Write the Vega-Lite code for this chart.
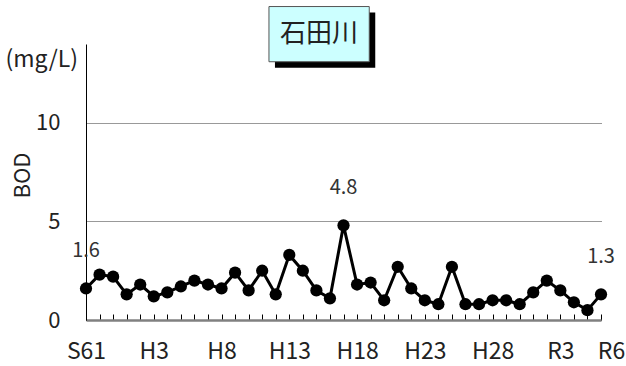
{
  "$schema": "https://vega.github.io/schema/vega-lite/v6.json",
  "autosize": {"type": "none"},
  "padding": {"left": 86, "top": 44, "right": 25, "bottom": 46},
  "width": 515,
  "height": 276,
  "background": "white",
  "config": {"view": {"stroke": null}, "font": "Noto Sans CJK JP"},
  "datasets": {
    "bod": [
      {"year": 1986, "bod": 1.6}, {"year": 1987, "bod": 2.3}, {"year": 1988, "bod": 2.2},
      {"year": 1989, "bod": 1.3}, {"year": 1990, "bod": 1.8}, {"year": 1991, "bod": 1.2},
      {"year": 1992, "bod": 1.4}, {"year": 1993, "bod": 1.7}, {"year": 1994, "bod": 2.0},
      {"year": 1995, "bod": 1.8}, {"year": 1996, "bod": 1.6}, {"year": 1997, "bod": 2.4},
      {"year": 1998, "bod": 1.5}, {"year": 1999, "bod": 2.5}, {"year": 2000, "bod": 1.3},
      {"year": 2001, "bod": 3.3}, {"year": 2002, "bod": 2.5}, {"year": 2003, "bod": 1.5},
      {"year": 2004, "bod": 1.1}, {"year": 2005, "bod": 4.8}, {"year": 2006, "bod": 1.8},
      {"year": 2007, "bod": 1.9}, {"year": 2008, "bod": 1.0}, {"year": 2009, "bod": 2.7},
      {"year": 2010, "bod": 1.6}, {"year": 2011, "bod": 1.0}, {"year": 2012, "bod": 0.8},
      {"year": 2013, "bod": 2.7}, {"year": 2014, "bod": 0.8}, {"year": 2015, "bod": 0.8},
      {"year": 2016, "bod": 1.0}, {"year": 2017, "bod": 1.0}, {"year": 2018, "bod": 0.8},
      {"year": 2019, "bod": 1.4}, {"year": 2020, "bod": 2.0}, {"year": 2021, "bod": 1.5},
      {"year": 2022, "bod": 0.9}, {"year": 2023, "bod": 0.5}, {"year": 2024, "bod": 1.3}
    ],
    "titlebox": [
      {"x1": 1999.5, "x2": 2006.9, "y1": 13.1, "y2": 15.9, "name": "石田川", "xc": 2003.2, "yc": 14.5}
    ]
  },
  "layer": [
    {
      "data": {"name": "bod"},
      "mark": {"type": "line", "color": "black", "strokeWidth": 3},
      "encoding": {
        "x": {
          "field": "year", "type": "quantitative",
          "scale": {"domain": [1986, 2024], "nice": false, "zero": false},
          "axis": {
            "title": null,
            "values": [1986,1987,1988,1989,1990,1991,1992,1993,1994,1995,1996,1997,1998,1999,2000,2001,2002,2003,2004,2005,2006,2007,2008,2009,2010,2011,2012,2013,2014,2015,2016,2017,2018,2019,2020,2021,2022,2023,2024],
            "tickCount": 100,
            "labelExpr": "datum.value==1986?'S61':datum.value==2024?'R6':datum.value==2021?'R3':(datum.value<2019 && (datum.value-1986)%5==0)?'H'+(datum.value-1988):''",
            "labelFontSize": 23,
            "labelColor": "#222222",
            "labelPadding": 26,
            "labelFlush": false,
            "labelOverlap": false,
            "labelOffset": {"condition": {"test": "datum.value == 2024", "value": 10}, "value": 0},
            "tickSize": -6,
            "tickColor": "black",
            "tickWidth": 1,
            "domainColor": "#808080",
            "domainWidth": 2.5,
            "grid": false
          }
        },
        "y": {
          "field": "bod", "type": "quantitative",
          "scale": {"domain": [0, 14], "nice": false},
          "axis": {
            "title": "BOD",
            "titleFontSize": 22,
            "titleFontWeight": "normal",
            "titleColor": "#222222",
            "titleX": -64,
            "titleY": 131,
            "titleBaseline": "middle",
            "values": [0, 5, 10],
            "labelFontSize": 22,
            "labelColor": "#222222",
            "labelPadding": 26,
            "ticks": false,
            "tickSize": 0,
            "domainColor": "black",
            "domainWidth": 1,
            "grid": true,
            "gridColor": "#333333",
            "gridDash": [1, 1],
            "gridWidth": 1
          }
        }
      }
    },
    {
      "data": {"name": "bod"},
      "mark": {"type": "circle", "color": "black", "size": 150, "opacity": 1},
      "encoding": {
        "x": {"field": "year", "type": "quantitative"},
        "y": {"field": "bod", "type": "quantitative"}
      }
    },
    {
      "data": {"name": "bod"},
      "transform": [{"filter": "datum.year == 1986 || datum.year == 2005 || datum.year == 2024"}],
      "mark": {"type": "text", "fontSize": 20, "color": "#333333", "dy": -37, "baseline": "middle"},
      "encoding": {
        "x": {"field": "year", "type": "quantitative"},
        "y": {"field": "bod", "type": "quantitative"},
        "text": {"field": "bod", "type": "quantitative", "format": ".1f"}
      }
    },
    {
      "data": {"values": [{"unit": "(mg/L)", "year": 1986, "v": 13.2}]},
      "mark": {"type": "text", "fontSize": 23, "color": "#222222", "align": "right", "dx": -8, "baseline": "middle"},
      "encoding": {
        "x": {"field": "year", "type": "quantitative"},
        "y": {"field": "v", "type": "quantitative"},
        "text": {"field": "unit"}
      }
    },
    {
      "data": {"name": "titlebox"},
      "mark": {"type": "rect", "color": "black", "xOffset": 6, "x2Offset": 6, "yOffset": 6, "y2Offset": 6, "clip": false},
      "encoding": {
        "x": {"field": "x1", "type": "quantitative"},
        "x2": {"field": "x2"},
        "y": {"field": "y1", "type": "quantitative"},
        "y2": {"field": "y2"}
      }
    },
    {
      "data": {"name": "titlebox"},
      "mark": {"type": "rect", "fill": "#CCFFFF", "stroke": "#555555", "strokeWidth": 1, "clip": false},
      "encoding": {
        "x": {"field": "x1", "type": "quantitative"},
        "x2": {"field": "x2"},
        "y": {"field": "y1", "type": "quantitative"},
        "y2": {"field": "y2"}
      }
    },
    {
      "data": {"name": "titlebox"},
      "mark": {"type": "text", "fontSize": 26, "color": "#222222", "baseline": "middle", "align": "center"},
      "encoding": {
        "x": {"field": "xc", "type": "quantitative"},
        "y": {"field": "yc", "type": "quantitative"},
        "text": {"field": "name"}
      }
    }
  ]
}
